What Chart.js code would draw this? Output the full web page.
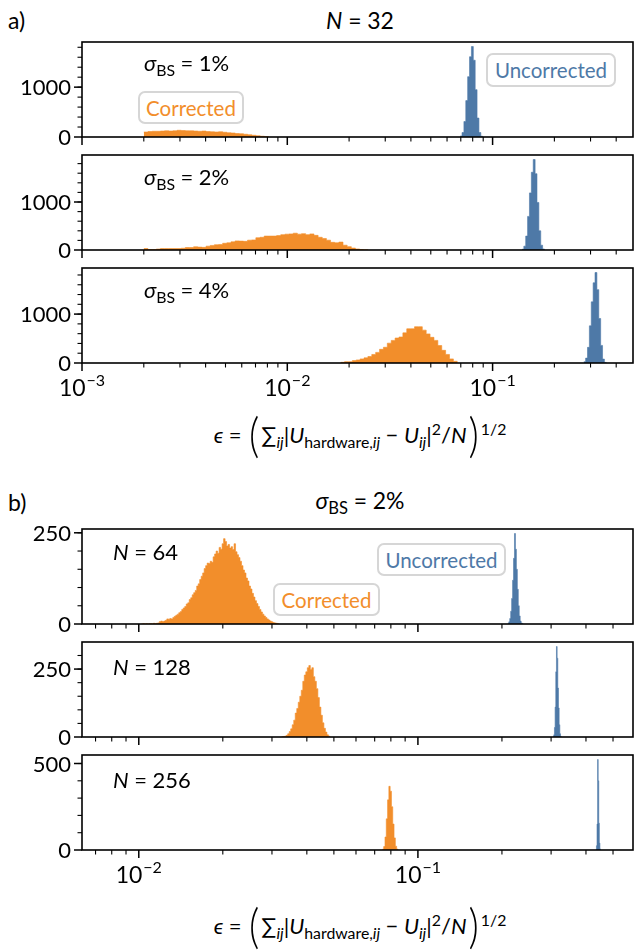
<!DOCTYPE html>
<html>
<head>
<meta charset="utf-8">
<script src="https://cdn.jsdelivr.net/npm/chart.js@4.4.1/dist/chart.umd.min.js"></script>
<style>
    body { margin: 0; background: #fff; }
    #fig { position: relative; width: 635px; height: 952px; overflow: hidden; font-family: Lato, "DejaVu Sans", sans-serif; color: #000; }
    #fig canvas { position: absolute; left: 0; }
    .t { position: absolute; white-space: nowrap; line-height: 1; transform: translateY(-50%); }
    .c { transform: translate(-50%, -50%); }
    .big { font-size: 23px; }
    .lab { font-size: 22px; }
    .t sub { font-size: 0.72em; vertical-align: -0.3em; }
    .t sup { font-size: 0.72em; vertical-align: 0.55em; }
    .eq { margin: 0 0.25em; }
    .box { position: absolute; border: 2px solid #d6d6d6; border-radius: 7px; background: #fff; font-size: 20.5px; display: flex; align-items: center; justify-content: center; box-sizing: border-box; }
    .xlab { font-size: 22px; }
    .bp { font-size: 40px; display: inline-block; transform: scaleY(1.2); vertical-align: -0.14em; font-weight: 300; margin: 0 2px; }
</style>
</head>
<body>
<div id="fig">
    <canvas id="a1"></canvas>
    <canvas id="a2"></canvas>
    <canvas id="a3"></canvas>
    <canvas id="b1"></canvas>
    <canvas id="b2"></canvas>
    <canvas id="b3"></canvas>

    <div class="t big" style="left:8px;top:20px">a)</div>
    <div class="t c big" style="left:360px;top:20px"><i>N</i><span class="eq">=</span>32</div>
    <div class="t lab" style="left:144px;top:65px"><i>σ</i><sub>BS</sub><span class="eq">=</span>1%</div>
    <div class="t lab" style="left:144px;top:179px"><i>σ</i><sub>BS</sub><span class="eq">=</span>2%</div>
    <div class="t lab" style="left:144px;top:292px"><i>σ</i><sub>BS</sub><span class="eq">=</span>4%</div>
    <div class="box" style="left:486px;top:53px;width:130px;height:34px;color:#4e79a7">Uncorrected</div>
    <div class="box" style="left:138px;top:91px;width:106px;height:33px;color:#f28e2b">Corrected</div>
    <div class="t c xlab" style="left:360px;top:434px"><i>ϵ</i><span class="eq">=</span><span class="bp">(</span>∑<sub><i>ij</i></sub>|<i>U</i><sub>hardware,<i>ij</i></sub><span class="eq">−</span><i>U</i><sub><i>ij</i></sub>|<sup>2</sup>/<i>N</i><span class="bp">)</span><sup>1/2</sup></div>

    <div class="t big" style="left:8px;top:502px">b)</div>
    <div class="t c big" style="left:360px;top:503px"><i>σ</i><sub>BS</sub><span class="eq">=</span>2%</div>
    <div class="t lab" style="left:113px;top:552px"><i>N</i><span class="eq">=</span>64</div>
    <div class="t lab" style="left:113px;top:667px"><i>N</i><span class="eq">=</span>128</div>
    <div class="t lab" style="left:113px;top:780px"><i>N</i><span class="eq">=</span>256</div>
    <div class="box" style="left:377px;top:543px;width:129px;height:33px;color:#4e79a7">Uncorrected</div>
    <div class="box" style="left:273px;top:583px;width:107px;height:33px;color:#f28e2b">Corrected</div>
    <div class="t c xlab" style="left:360px;top:925px"><i>ϵ</i><span class="eq">=</span><span class="bp">(</span>∑<sub><i>ij</i></sub>|<i>U</i><sub>hardware,<i>ij</i></sub><span class="eq">−</span><i>U</i><sub><i>ij</i></sub>|<sup>2</sup>/<i>N</i><span class="bp">)</span><sup>1/2</sup></div>
</div>

<script>
// bin ranges (first edge, last edge) are log-spaced; counts per bin
const a1CorrRange = [0.002, 0.0081];
const a1CorrCounts = [100, 110, 115, 115, 120, 125, 120, 125, 135, 130, 125, 125, 120, 115, 120,
    110, 105, 100, 105, 95, 85, 80, 70, 65, 55, 45, 35, 25, 15, 8];
const a1UncRange = [0.0695, 0.0895];
const a1UncCounts = [20, 90, 310, 730, 1210, 1610, 1815, 1540, 950, 380, 90, 15];

const a2CorrRange = [0.002, 0.0247];
const a2CorrCounts = [30, 10, 10, 20, 30, 30, 30, 30, 30, 37, 52, 52, 67, 60, 55, 80, 95, 110,
    115, 140, 150, 170, 190, 185, 180, 205, 210, 255, 265, 290, 290, 290, 300, 320, 330, 335,
    350, 330, 340, 320, 335, 305, 265, 240, 205, 160, 150, 165, 100, 70, 40, 22, 10, 5];
const a2UncRange = [0.139, 0.179];
const a2UncCounts = [15, 80, 290, 700, 1190, 1620, 1885, 1590, 990, 400, 100, 20];

const a3CorrRange = [0.0182, 0.0673];
const a3CorrCounts = [14, 28, 28, 49, 63, 84, 105, 133, 175, 217, 280, 322, 406, 462, 511,
    532, 616, 700, 700, 742, 742, 672, 595, 525, 462, 357, 259, 175, 84, 35];
const a3UncRange = [0.278, 0.358];
const a3UncCounts = [25, 100, 320, 760, 1250, 1640, 1850, 1500, 910, 360, 80, 12];

const b1CorrRange = [0.01022, 0.03176];
const b1CorrCounts = [0, 1, 0, 1, 0, 1, 1, 0, 2, 1, 2, 3, 7, 8, 7, 8, 10, 14, 13, 15, 14, 18,
    21, 24, 27, 31, 34, 40, 44, 48, 55, 58, 67, 72, 80, 86, 92, 104, 110, 122, 131, 140, 152,
    160, 167, 166, 172, 169, 184, 192, 200, 194, 210, 205, 220, 234, 226, 214, 218, 208, 212,
    204, 220, 198, 190, 182, 172, 160, 148, 140, 126, 118, 104, 96, 84, 74, 64, 56, 48, 40,
    33, 27, 22, 18, 14, 11, 8, 6, 4, 3, 2, 1];
const b1UncRange = [0.2100, 0.2380];
const b1UncCounts = [2, 6, 15, 35, 70, 120, 180, 248, 205, 150, 95, 50, 22, 8, 3, 1];

const b2CorrRange = [0.0325, 0.0484];
const b2CorrCounts = [1, 2, 3, 6, 12, 20, 30, 45, 62, 88, 105, 128, 150, 172, 205, 228, 240,
    255, 263, 248, 255, 222, 205, 178, 145, 110, 80, 52, 32, 18, 8, 3];
const b2UncRange = [0.305, 0.326];
const b2UncCounts = [2, 8, 35, 110, 240, 333, 290, 180, 107, 45, 12, 3];

const b3CorrRange = [0.0746, 0.0848];
const b3CorrCounts = [4, 20, 75, 180, 290, 368, 340, 250, 150, 70, 22, 5];
const b3UncRange = [0.434, 0.451];
const b3UncCounts = [3, 25, 150, 523, 400, 155, 40, 6];

// axis limits and y ticks
const xLimA = [0.001, 0.483];
const xLimB = [0.00626, 0.5896];
const yTicksA = [0, 1000];
const yTicksB1 = [0, 250];
const yTicksB3 = [0, 500];

const ORANGE = '#f28e2b';
const BLUE = '#4e79a7';

function histPoints(range, counts) {
    const n = counts.length;
    const r = Math.log(range[1] / range[0]);
    const pts = counts.map((c, i) => ({ x: range[0] * Math.exp(r * i / n), y: c }));
    pts.push({ x: range[1], y: 0 });
    return pts;
}

function histDataset(range, counts, color) {
    return {
        data: histPoints(range, counts),
        stepped: true,
        fill: 'origin',
        backgroundColor: color,
        borderColor: color,
        borderWidth: 0.6,
        pointRadius: 0
    };
}

// frame, outward ticks and tick labels
const frameAxes = {
    id: 'frameAxes',
    afterDatasetsDraw(chart, args, o) {
        const { ctx, chartArea: a, scales: { x, y } } = chart;
        ctx.save();
        ctx.strokeStyle = '#000';
        ctx.fillStyle = '#000';

        const d0 = Math.floor(Math.log10(x.min));
        const d1 = Math.ceil(Math.log10(x.max));
        for (let d = d0; d <= d1; d++) {
            for (let m = 1; m < 10; m++) {
                const v = m * Math.pow(10, d);
                if (v < x.min * 0.9999 || v > x.max * 1.0001) continue;
                const px = x.getPixelForValue(v);
                ctx.lineWidth = m === 1 ? 1.5 : 1.1;
                ctx.beginPath();
                ctx.moveTo(px, a.bottom);
                ctx.lineTo(px, a.bottom + (m === 1 ? 8 : 4.5));
                ctx.stroke();
                if (m === 1 && o.xLabels) {
                    const exp = '−' + Math.abs(d);
                    ctx.font = '23px Lato';
                    const w1 = ctx.measureText('10').width;
                    ctx.font = '16px Lato';
                    const w2 = ctx.measureText(exp).width;
                    const x0 = px - (w1 + w2 + 1) / 2;
                    const yb = a.bottom + 33;
                    ctx.textBaseline = 'alphabetic';
                    ctx.textAlign = 'left';
                    ctx.font = '23px Lato';
                    ctx.fillText('10', x0, yb);
                    ctx.font = '16px Lato';
                    ctx.fillText(exp, x0 + w1 + 1, yb - 10);
                }
            }
        }

        for (let v = o.yMinor; v <= y.max; v += o.yMinor) {
            const py = y.getPixelForValue(v);
            ctx.lineWidth = 1.1;
            ctx.beginPath();
            ctx.moveTo(a.left, py);
            ctx.lineTo(a.left - 4.5, py);
            ctx.stroke();
        }
        ctx.font = '22px Lato';
        ctx.textAlign = 'right';
        ctx.textBaseline = 'middle';
        o.yMajor.forEach(v => {
            const py = y.getPixelForValue(v);
            ctx.lineWidth = 1.5;
            ctx.beginPath();
            ctx.moveTo(a.left, py);
            ctx.lineTo(a.left - 8, py);
            ctx.stroke();
            ctx.fillText(String(v), a.left - 11, py + 1);
        });

        ctx.lineWidth = 1.6;
        ctx.strokeRect(a.left, a.top, a.right - a.left, a.bottom - a.top);
        ctx.restore();
    }
};

function makePanel(id, top, xLim, corr, unc, yMajor, yMinor, xLabels) {
    const padTop = 8;
    const padBottom = xLabels ? 50 : 14;
    const height = 95;
    const canvas = document.getElementById(id);
    canvas.width = 635;
    canvas.height = height + padTop + padBottom;
    canvas.style.top = (top - padTop) + 'px';

    const peak = Math.max(...corr[1], ...unc[1]);

    return new Chart(canvas.getContext('2d'), {
        type: 'line',
        data: {
            datasets: [
                histDataset(corr[0], corr[1], ORANGE),
                histDataset(unc[0], unc[1], BLUE)
            ]
        },
        options: {
            animation: false,
            responsive: false,
            devicePixelRatio: 1,
            events: [],
            layout: { padding: { left: 82, right: 2, top: padTop, bottom: padBottom } },
            plugins: {
                legend: { display: false },
                tooltip: { enabled: false },
                frameAxes: { yMajor, yMinor, xLabels }
            },
            scales: {
                x: { type: 'logarithmic', display: false, min: xLim[0], max: xLim[1] },
                y: { type: 'linear', display: false, min: 0, max: peak * 1.05 }
            }
        },
        plugins: [frameAxes]
    });
}

makePanel('a1', 42, xLimA, [a1CorrRange, a1CorrCounts], [a1UncRange, a1UncCounts], yTicksA, 200, false);
makePanel('a2', 155, xLimA, [a2CorrRange, a2CorrCounts], [a2UncRange, a2UncCounts], yTicksA, 200, false);
makePanel('a3', 268, xLimA, [a3CorrRange, a3CorrCounts], [a3UncRange, a3UncCounts], yTicksA, 200, true);
makePanel('b1', 529, xLimB, [b1CorrRange, b1CorrCounts], [b1UncRange, b1UncCounts], yTicksB1, 50, false);
makePanel('b2', 642, xLimB, [b2CorrRange, b2CorrCounts], [b2UncRange, b2UncCounts], yTicksB1, 50, false);
makePanel('b3', 755, xLimB, [b3CorrRange, b3CorrCounts], [b3UncRange, b3UncCounts], yTicksB3, 100, true);
</script>
</body>
</html>
